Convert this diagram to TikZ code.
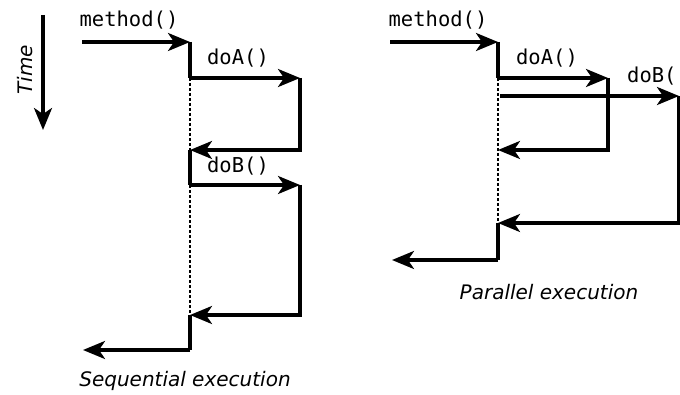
\documentclass[tikz,border=0pt]{standalone}
\usepackage{fontspec}
\setmainfont{DejaVu Sans}
\setmonofont{DejaVu Sans Mono}
\usetikzlibrary{arrows.meta}

\begin{document}
\begin{tikzpicture}[x=1pt, y=-1pt, >={Stealth[length=22pt,width=18pt,inset=6pt]},
  call/.style={line width=3.3pt, ->},
  flow/.style={line width=3.3pt},
  idle/.style={line width=1.6pt, dash pattern=on 3pt off 2pt},
  lbl/.style={inner sep=0pt, font=\fontsize{20.5}{23}\selectfont\ttfamily},
  caption/.style={inner sep=0pt, font=\fontsize{20}{23}\selectfont\itshape}]
\useasboundingbox (0,0) rectangle (680,395);
% time axis
\coordinate (t0) at (43,15);
\coordinate (t1) at (43,130);
\node[caption, rotate=90] (time) at (25,70) {Time};
\draw[call] (t0) -- (t1);
% sequential execution
\coordinate (s0) at (82,42);
\coordinate (s1) at (190,42);
\coordinate (s2) at (190,78);
\coordinate (sa1) at (300,78);
\coordinate (sa2) at (300,150);
\coordinate (s3) at (190,150);
\coordinate (s4) at (190,185);
\coordinate (sb1) at (300,185);
\coordinate (sb2) at (300,315);
\coordinate (s5) at (190,315);
\coordinate (s6) at (190,350);
\coordinate (s7) at (83,350);
\node[lbl] (smethod) at (129,20) {method()};
\node[lbl] (sdoA) at (238,58) {doA()};
\node[lbl] (sdoB) at (238,166) {doB()};
\draw[call] (s0) -- (s1);
\draw[flow] (s1) -- (s2);
\draw[call] (s2) -- (sa1);
\draw[call] (sa1) -- (sa2) -- (s3);
\draw[idle] (s2) -- (s3);
\draw[flow] (s3) -- (s4);
\draw[call] (s4) -- (sb1);
\draw[call] (sb1) -- (sb2) -- (s5);
\draw[idle] (s4) -- (s5);
\draw[flow] (s5) -- (s6);
\draw[call] (s6) -- (s7);
\node[caption] (seq) at (185,381) {Sequential execution};
% parallel execution
\coordinate (p0) at (390,42);
\coordinate (p1) at (498,42);
\coordinate (p2) at (498,78);
\coordinate (pa1) at (608,78);
\coordinate (pa2) at (608,150);
\coordinate (p3) at (498,150);
\coordinate (pb0) at (500,96);
\coordinate (pb1) at (679,96);
\coordinate (pb2) at (679,223);
\coordinate (p4) at (498,223);
\coordinate (p5) at (498,260);
\coordinate (p6) at (392,260);
\node[lbl] (pmethod) at (438,20) {method()};
\node[lbl] (pdoA) at (547,58) {doA()};
\node[lbl, anchor=west] (pdoB) at (627,76) {doB()};
\draw[call] (p0) -- (p1);
\draw[flow] (p1) -- (p2);
\draw[call] (p2) -- (pa1);
\draw[call] (pb0) -- (pb1);
\draw[call] (pa1) -- (pa2) -- (p3);
\draw[call] (pb1) -- (pb2) -- (p4);
\draw[idle] (p2) -- (p4);
\draw[flow] (p4) -- (p5);
\draw[call] (p5) -- (p6);
\node[caption] (par) at (549,292) {Parallel execution};
\end{tikzpicture}
\end{document}
